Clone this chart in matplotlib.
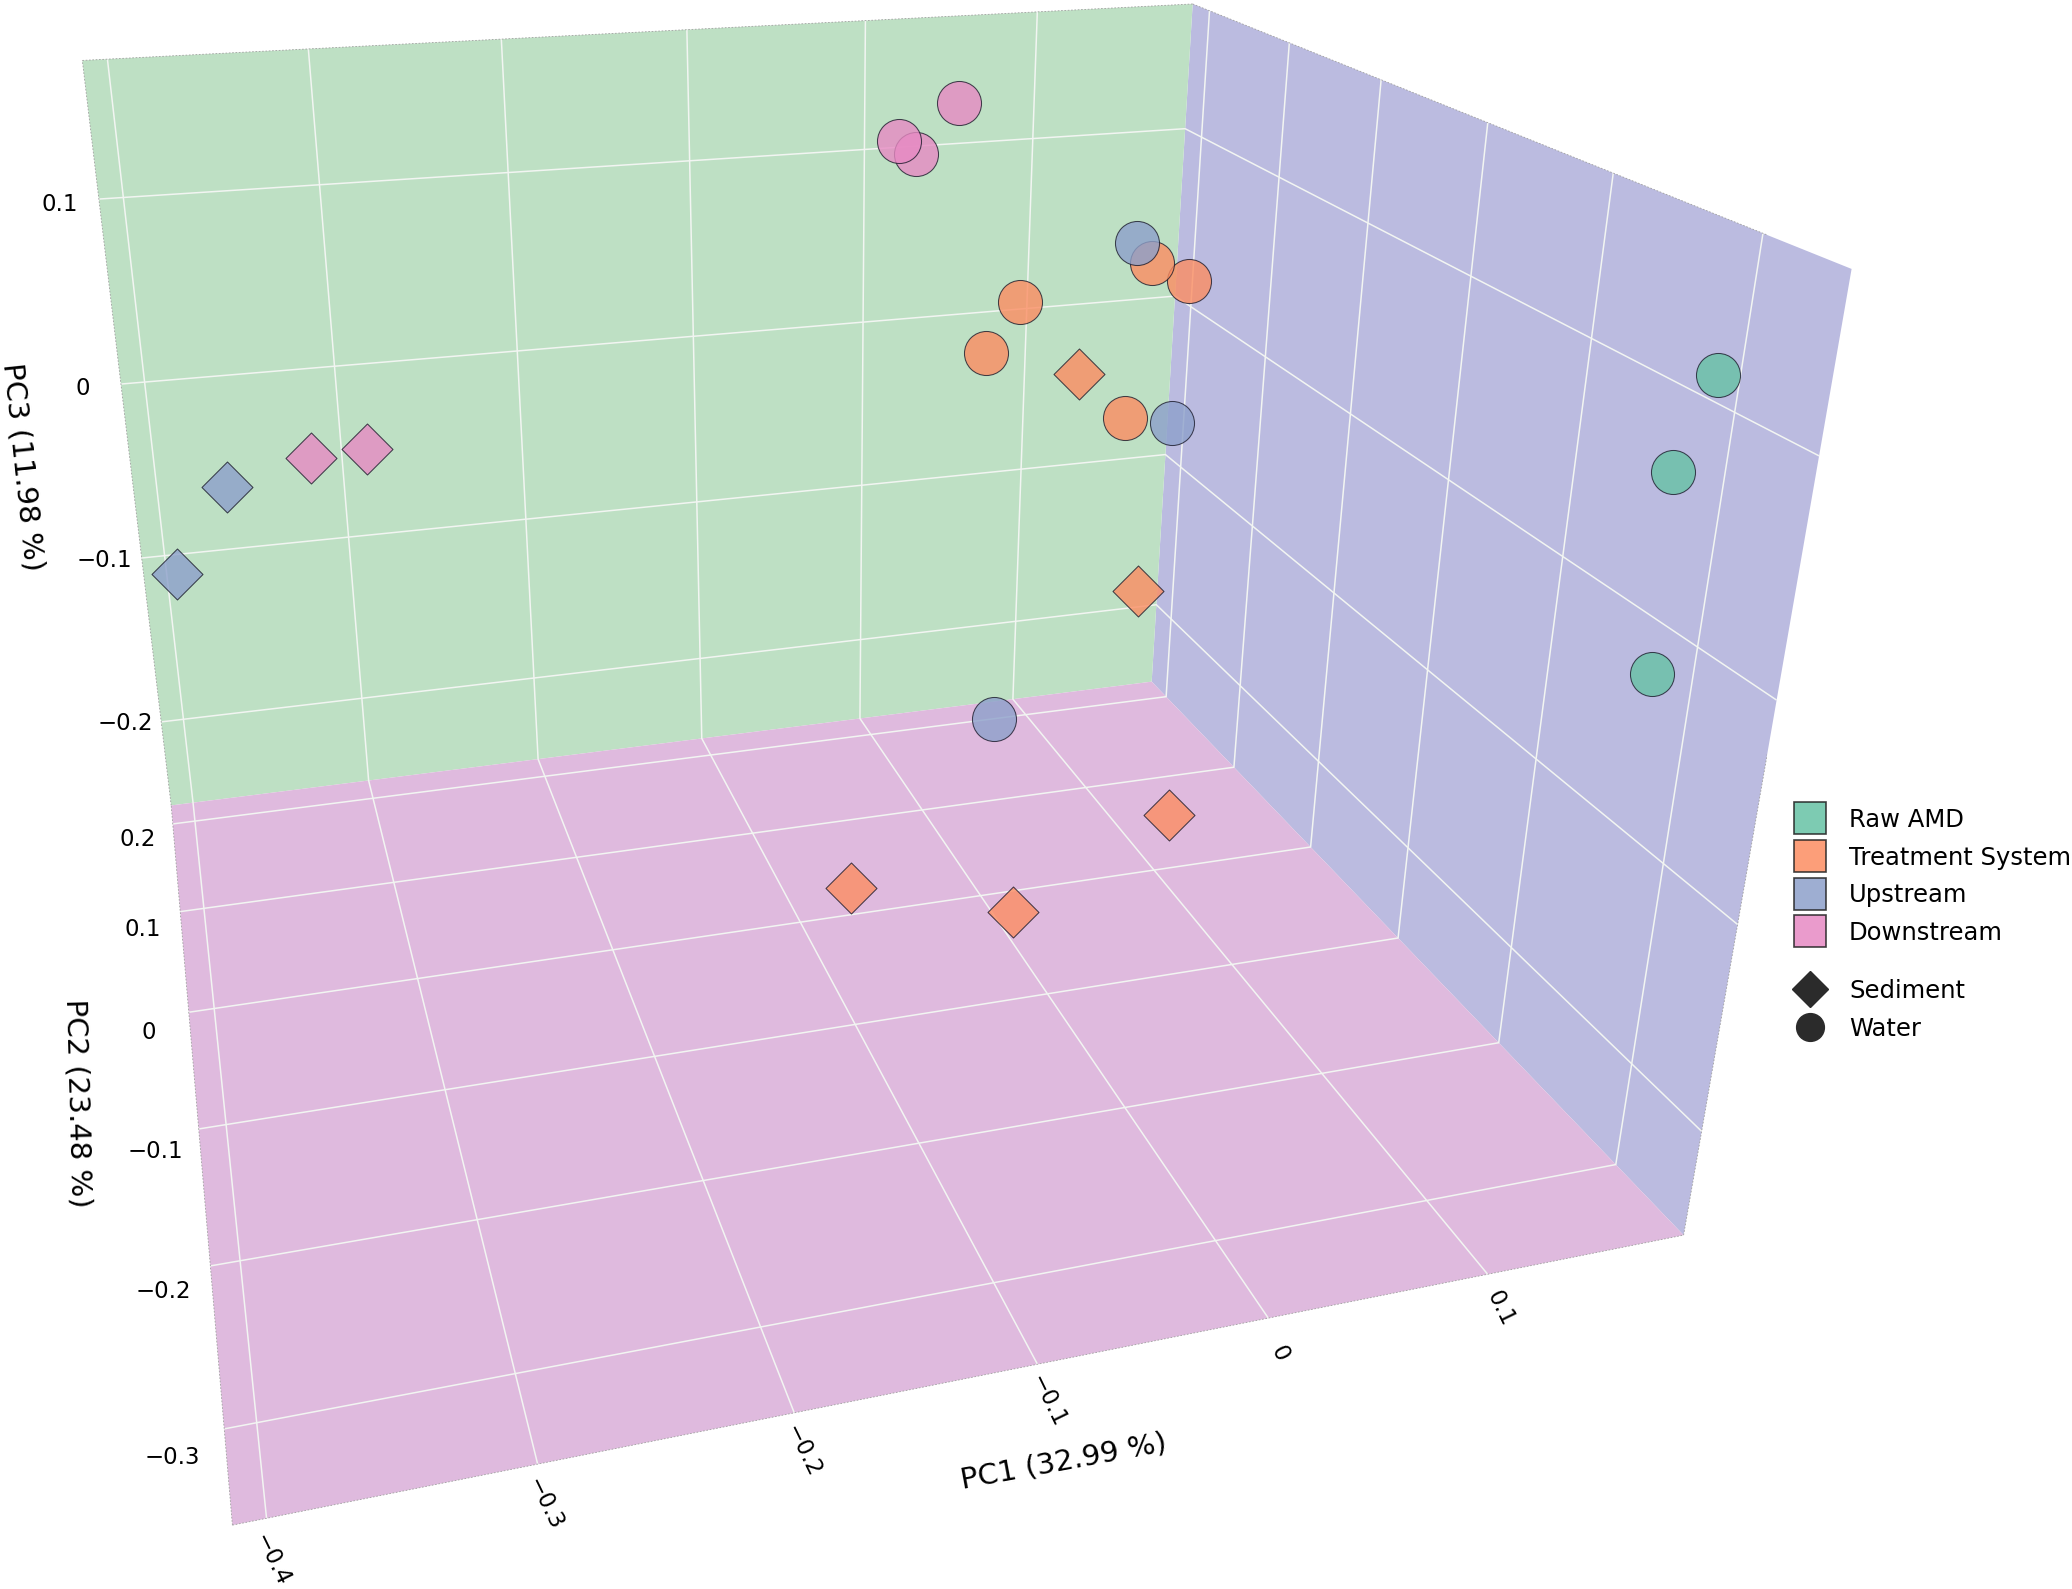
import matplotlib
matplotlib.use('Agg')
import matplotlib.pyplot as plt
from matplotlib.lines import Line2D

# ---- data (PC1, PC2, PC3) ----
raw_water_x = [0.1835, 0.1698, 0.174]
raw_water_y = [-0.30, -0.30, -0.30]
raw_water_z = [0.1159, 0.0779, -0.0095]
treat_water_x = [0.123, 0.1451, 0.0488, 0.0306, 0.1122]
treat_water_y = [0.10, 0.10, 0.10, 0.10, 0.10]
treat_water_z = [0.0585, 0.0469, 0.0429, 0.0161, -0.028]
treat_sed_x = [0.0843, 0.1255, 0.107, -0.1026, -0.0197]
treat_sed_y = [0.10, 0.10, 0.00, -0.10, -0.10]
treat_sed_z = [-0.0004, -0.1319, -0.2206, -0.1765, -0.2031]
up_water_x = [0.1136, 0.1401, 0.0416]
up_water_y = [0.10, 0.10, 0.10]
up_water_z = [0.0701, -0.0336, -0.2011]
up_sed_x = [-0.3658, -0.3942]
up_sed_y = [0.10, 0.10]
up_sed_z = [-0.0184, -0.062]
down_water_x = [0.0124, -0.0194, -0.0104]
down_water_y = [0.10, 0.10, 0.10]
down_water_z = [0.1498, 0.1324, 0.1253]
down_sed_x = [-0.3238, -0.2964]
down_sed_y = [0.10, 0.10]
down_sed_z = [-0.0073, -0.0055]

groups = ['Raw AMD', 'Treatment System', 'Upstream', 'Downstream']
shapes = ['Sediment', 'Water']
x_ticks = [-0.4, -0.3, -0.2, -0.1, 0, 0.1]
y_ticks = [-0.3, -0.2, -0.1, 0, 0.1, 0.2]
z_ticks = [-0.2, -0.1, 0, 0.1]
x_lim = (-0.4122, 0.1937)
y_lim = (-0.3513, 0.2229)
z_lim = (-0.2533, 0.171)

COL = {'Raw AMD': '#66C2A5', 'Treatment System': '#FC8D62',
       'Upstream': '#8DA0CB', 'Downstream': '#E78AC3'}
def fmt(v):
    return '0' if v == 0 else f'{v:.1f}'.replace('-', '\u2212')

plt.rcParams['font.family'] = ['DejaVu Sans']
plt.rcParams['grid.color'] = '#F2F5F2'
plt.rcParams['grid.linewidth'] = 1.1
FW, FH = 2072, 1589
fig = plt.figure(figsize=(FW/100, FH/100), dpi=100, facecolor='white')
W = 1953.9
cx, cy = 816.84, 1589 - 599.31
ax = fig.add_axes([(cx - 0.5135*W)/FW, (cy - 0.5135*W)/FH, W/FW, W/FH],
                  projection='3d', computed_zorder=False)
ax.patch.set_alpha(0)
ax.set_xlim(x_lim); ax.set_ylim(y_lim); ax.set_zlim(z_lim)
ax.set_box_aspect((x_lim[1]-x_lim[0], y_lim[1]-y_lim[0], z_lim[1]-z_lim[0]))
ax.view_init(elev=23.366, azim=-105.88)
ax.set_proj_type('persp', focal_length=0.2299)

ax.xaxis.set_pane_color('#BBBBE0')
ax.yaxis.set_pane_color('#BEE0C4')
ax.zaxis.set_pane_color('#DFBADE')
for a in (ax.xaxis, ax.yaxis, ax.zaxis):
    a.pane.set_edgecolor('none')
    a.line.set_color('none')

ax.set_xticks(x_ticks); ax.set_xticklabels([fmt(v) for v in x_ticks])
ax.set_yticks(y_ticks); ax.set_yticklabels([fmt(v) for v in y_ticks])
ax.set_zticks(z_ticks); ax.set_zticklabels([fmt(v) for v in z_ticks])
ax.tick_params(axis='both', color=(0, 0, 0, 0), labelsize=16.5)
ax.tick_params(axis='x', labelrotation=-64, pad=7)
ax.tick_params(axis='y', pad=17)
ax.tick_params(axis='z', pad=15.5)
for lab in ax.get_xticklabels():
    lab.set(ha='center', va='center', rotation_mode='anchor')
for lab in ax.get_yticklabels():
    lab.set(ha='center', va='bottom', rotation_mode='anchor')
for lab in ax.get_zticklabels():
    lab.set(ha='center', va='top', rotation_mode='anchor')

# faint outline of the outer pane edges
x0, x1 = x_lim; y0, y1 = y_lim; z0, z1 = z_lim
edge = dict(color='#A0A0A0', lw=0.6, ls=(0, (2, 2)))
ax.plot([x0, x1], [y1, y1], [z1, z1], **edge)
ax.plot([x0, x0], [y1, y1], [z0, z1], **edge)
ax.plot([x0, x0], [y0, y1], [z0, z0], **edge)
ax.plot([x0, x1], [y0, y0], [z0, z0], **edge)
ax.plot([x1, x1], [y1, y0], [z1, z1], **edge)
ax.plot([x1, x1], [y0, y0], [z0, z1], **edge)

def sc(x, y, z, name, m, s):
    ax.scatter(x, y, z, c=COL[name], marker=m, s=s, alpha=0.8, depthshade=False,
               edgecolors='#1a1a2a', linewidths=0.75)
S_C, S_D = 1005, 675
sc(treat_water_x, treat_water_y, treat_water_z, 'Treatment System', 'o', S_C)
sc(treat_sed_x, treat_sed_y, treat_sed_z, 'Treatment System', 'D', S_D)
sc(up_water_x, up_water_y, up_water_z, 'Upstream', 'o', S_C)
sc(up_sed_x, up_sed_y, up_sed_z, 'Upstream', 'D', S_D)
sc(down_water_x, down_water_y, down_water_z, 'Downstream', 'o', S_C)
sc(down_sed_x, down_sed_y, down_sed_z, 'Downstream', 'D', S_D)
sc(raw_water_x, raw_water_y, raw_water_z, 'Raw AMD', 'o', S_C)

def ft(px, py, s, rot):
    fig.text(px/FW, 1 - py/FH, s, rotation=rot, ha='center', va='center',
             fontsize=21, rotation_mode='anchor')
ft(1064, 1462, 'PC1 (32.99 %)', 10.5)
ft(77, 1103, 'PC2 (23.48 %)', -88.5)
ft(22, 467, 'PC3 (11.98 %)', -84)

h1 = [Line2D([], [], ls='none', marker='s', ms=23, mfc=COL[g], mec='#222222', mew=1.2, alpha=0.85)
      for g in groups]
h2 = [Line2D([], [], ls='none', marker='D', ms=18, mfc='#2b2b2b', mec='#2b2b2b'),
      Line2D([], [], ls='none', marker='o', ms=20, mfc='#2b2b2b', mec='#2b2b2b')]
kw = dict(frameon=False, fontsize=17.5, loc='upper left', handletextpad=0.9, labelspacing=0.56,
          handlelength=1.4, borderaxespad=0, borderpad=0)
fig.legend(h1, groups, bbox_to_anchor=(1793/FW, 1 - 808/FH), **kw)
fig.legend(h2, shapes, bbox_to_anchor=(1793/FW, 1 - 979/FH), **kw)

fig.savefig('out.png', dpi=100)
